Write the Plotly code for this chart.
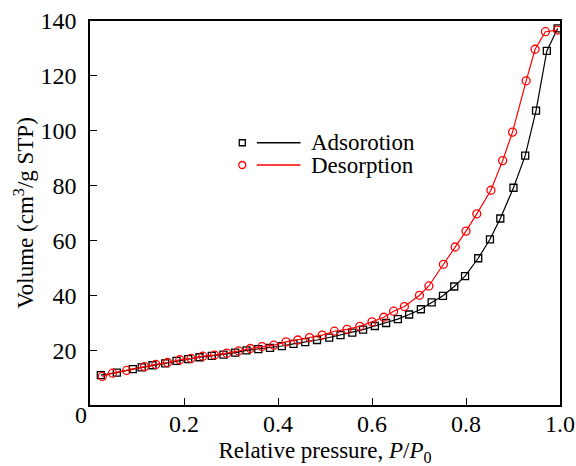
import plotly.graph_objects as go

ads_x = [0.023, 0.057, 0.091, 0.110, 0.133, 0.160, 0.184, 0.209, 0.233, 0.259,
         0.284, 0.309, 0.333, 0.358, 0.383, 0.408, 0.433, 0.458, 0.483, 0.509,
         0.533, 0.558, 0.581, 0.606, 0.630, 0.655, 0.679, 0.704, 0.727, 0.751,
         0.775, 0.798, 0.826, 0.851, 0.873, 0.901, 0.926, 0.949, 0.972, 0.995]
ads_y = [10.9, 11.8, 13.1, 13.7, 14.5, 15.2, 16.1, 16.7, 17.4, 17.9,
         18.4, 19.1, 19.9, 20.4, 20.8, 21.5, 22.3, 22.9, 23.7, 24.6,
         25.5, 26.4, 27.5, 28.8, 29.9, 31.3, 33.0, 34.9, 37.4, 39.8,
         43.2, 47.0, 53.5, 60.4, 68.0, 79.2, 90.9, 107.3, 129.1, 137.3]

des_x = [0.026, 0.048, 0.078, 0.116, 0.140, 0.165, 0.191, 0.215, 0.240, 0.265,
         0.291, 0.316, 0.341, 0.366, 0.391, 0.417, 0.442, 0.467, 0.494, 0.520,
         0.547, 0.574, 0.600, 0.625, 0.646, 0.669, 0.701, 0.721, 0.752, 0.777,
         0.800, 0.823, 0.853, 0.878, 0.899, 0.928, 0.947, 0.969, 0.995]
des_y = [10.4, 11.6, 12.6, 14.0, 14.8, 15.5, 16.5, 17.0, 17.8, 18.2,
         18.9, 19.7, 20.6, 21.3, 21.8, 23.0, 23.7, 24.6, 25.5, 26.9,
         27.6, 28.7, 30.3, 32.0, 34.2, 35.9, 40.0, 43.4, 51.3, 57.6,
         63.4, 69.7, 78.3, 89.1, 99.5, 118.2, 129.7, 136.1, 136.7]

x_ticks = [0.2, 0.4, 0.6, 0.8, 1.0]
x_tick_text = ["0.2", "0.4", "0.6", "0.8", "1.0"]
y_ticks = [0, 20, 40, 60, 80, 100, 120, 140]
y_tick_text = ["", "20", "40", "60", "80", "100", "120", "140"]
origin_label = "0"
legend_names = ["Adsorotion", "Desorption"]

FONT = "Liberation Serif"
RED = "#ff0000"

fig = go.Figure()
fig.add_trace(go.Scatter(
    x=ads_x, y=ads_y, mode="lines+markers", name=legend_names[0],
    line=dict(color="black", width=1.2),
    marker=dict(symbol="square-open", size=7, color="black", line=dict(width=1.3)),
    showlegend=False))
fig.add_trace(go.Scatter(
    x=des_x, y=des_y, mode="lines+markers", name=legend_names[1],
    line=dict(color=RED, width=1.2),
    marker=dict(symbol="circle-open", size=8, color=RED, line=dict(width=1.3)),
    showlegend=False))

# manual legend (marker separated from line, as in the reference)
shapes = []
annotations = []
rows = [(0.683, "black", "rect"), (0.625, RED, "circle")]
for (yy, col, kind), name in zip(rows, legend_names):
    shapes.append(dict(type="line", xref="paper", yref="paper",
                       x0=0.355, x1=0.448, y0=yy, y1=yy,
                       line=dict(color=col, width=1.6)))
    half = 3 if kind == "rect" else 3.5
    shapes.append(dict(type=kind, xref="paper", yref="paper",
                       xsizemode="pixel", ysizemode="pixel",
                       xanchor=0.324, yanchor=yy,
                       x0=-half, x1=half, y0=-half, y1=half,
                       line=dict(color=col, width=1.3)))
    annotations.append(dict(xref="paper", yref="paper", x=0.466, y=yy,
                            xanchor="left", yanchor="middle", showarrow=False,
                            text=name, font=dict(family=FONT, size=23, color="black")))

# shared origin label "0" (lower-left corner)
annotations.append(dict(xref="paper", yref="paper", x=-0.0185, y=-0.025,
                        xanchor="center", yanchor="middle", showarrow=False,
                        text=origin_label, font=dict(family=FONT, size=24, color="black")))

fig.update_layout(
    width=576, height=466,
    margin=dict(l=90, r=16, t=21, b=61),
    paper_bgcolor="white", plot_bgcolor="white",
    font=dict(family=FONT, size=23, color="black"),
    shapes=shapes, annotations=annotations,
)
fig.update_xaxes(
    range=[0, 1.0], tickvals=x_ticks, ticktext=x_tick_text,
    ticks="inside", ticklen=7, tickwidth=1.2, tickcolor="black",
    showline=True, linecolor="black", linewidth=1.5, mirror=True,
    showgrid=False, zeroline=False, automargin=False,
    ticklabelstandoff=-4,
    tickfont=dict(family=FONT, size=24),
    title=dict(text="Relative pressure, <i>P</i>/<i>P</i><sub>0</sub>",
               font=dict(family=FONT, size=23), standoff=12),
)
fig.update_yaxes(
    range=[0, 140], tickvals=y_ticks, ticktext=y_tick_text,
    ticks="inside", ticklen=7, tickwidth=1.2, tickcolor="black",
    showline=True, linecolor="black", linewidth=1.5, mirror=True,
    showgrid=False, zeroline=False, automargin=False,
    ticklabelstandoff=7,
    tickfont=dict(family=FONT, size=24),
    title=dict(text="Volume (cm<sup>3</sup>/g STP)",
               font=dict(family=FONT, size=23), standoff=0),
)

fig.write_html("out.html", config={"displayModeBar": False},
               post_script="document.body.style.margin='0';")
